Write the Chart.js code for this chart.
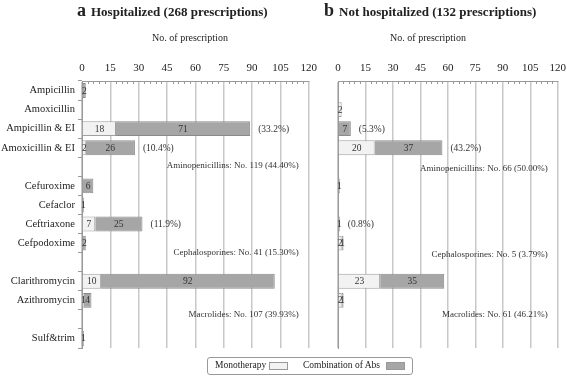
<!DOCTYPE html>
<html>
<head>
<meta charset="utf-8">
<script src="https://cdn.jsdelivr.net/npm/chart.js@4.4.1/dist/chart.umd.min.js"></script>
<style>
  body { margin: 0; background: #fff; font-family: "Liberation Serif", "DejaVu Serif", serif; color: #222; }
  #wrap { position: relative; width: 567px; height: 376px; overflow: hidden; }
  canvas { position: absolute; top: 0; }
  .title { position: absolute; top: 0; font-weight: bold; font-size: 13px; white-space: nowrap; }
  .title b { font-size: 18px; margin-right: 5px; }
  .axt { position: absolute; top: 32px; font-size: 10px; white-space: nowrap; transform: translateX(-50%); }
  #legend { position: absolute; left: 207px; top: 357px; width: 206px; height: 18px; border: 1px solid #999;
            border-radius: 3px; font-size: 9.5px; box-sizing: border-box; }
  #legend span.t { position: absolute; top: 2px; white-space: nowrap; }
  #legend span.s { position: absolute; top: 4px; width: 19px; height: 8px; border: 1px solid #999; box-sizing: border-box; }
</style>
</head>
<body>
<div id="wrap">
  <canvas id="chartA" width="323" height="376" style="left:0"></canvas>
  <canvas id="chartB" width="252" height="376" style="left:320px"></canvas>
  <div class="title" style="left:77px"><b>a</b>Hospitalized (268 prescriptions)</div>
  <div class="title" style="left:324px"><b>b</b>Not hospitalized (132 prescriptions)</div>
  <div class="axt" style="left:190px">No. of prescription</div>
  <div class="axt" style="left:428px">No. of prescription</div>
  <div id="legend">
    <span class="t" style="left:7px">Monotherapy</span>
    <span class="s" style="left:61px;background:#f2f2f2"></span>
    <span class="t" style="left:95px">Combination of Abs</span>
    <span class="s" style="left:178px;background:#a6a6a6"></span>
  </div>
</div>
<script>
const categories = ["Ampicillin", "Amoxicillin", "Ampicillin & EI", "Amoxicillin & EI", "",
  "Cefuroxime", "Cefaclor", "Ceftriaxone", "Cefpodoxime", "",
  "Clarithromycin", "Azithromycin", "", "Sulf&trim"];
const xTicks = [0, 15, 30, 45, 60, 75, 90, 105, 120];

// hospitalized
const hospMono  = [null, null, 18, 2, null, null, null, 7, null, null, 10, 1, null, null];
const hospCombo = [2, null, 71, 26, null, 6, 1, 25, 2, null, 92, 4, null, 1];
const hospPct   = ["", "", "(33.2%)", "(10.4%)", "", "", "", "(11.9%)", "", "", "", "", "", ""];
const hospGroups = ["Aminopenicillins: No. 119 (44.40%)", "Cephalosporines: No. 41 (15.30%)", "Macrolides: No. 107 (39.93%)"];
const hospGroupSlots = [3.92, 8.5, 11.76];

// not hospitalized
const outMono  = [null, 2, null, 20, null, null, null, null, 2, null, 23, 2, null, null];
const outCombo = [null, null, 7, 37, null, 1, null, 1, 1, null, 35, 1, null, null];
const outPct   = ["", "", "(5.3%)", "(43.2%)", "", "", "", "(0.8%)", "", "", "", "", "", ""];
const outGroups = ["Aminopenicillins: No. 66 (50.00%)", "Cephalosporines: No. 5 (3.79%)", "Macrolides: No. 61 (46.21%)"];
const outGroupSlots = [4.08, 8.6, 11.76];

const serif = "'Liberation Serif', 'DejaVu Serif', serif";

const barText = {
  id: "barText",
  afterDatasetsDraw(chart, args, opts) {
    const ctx = chart.ctx;
    const x = chart.scales.x, y = chart.scales.y;
    const area = chart.chartArea;
    ctx.save();
    // minor ticks on the top axis
    ctx.strokeStyle = "#999";
    ctx.lineWidth = 1;
    for (let v = 0; v <= 120; v += 3) {
      if (v % 15 === 0) continue;
      const px = Math.round(x.getPixelForValue(v)) + 0.5;
      ctx.beginPath();
      ctx.moveTo(px, area.top);
      ctx.lineTo(px, area.top + 3);
      ctx.stroke();
    }
    // values inside the bars
    ctx.fillStyle = "#333";
    ctx.font = "9.5px " + serif;
    ctx.textAlign = "center";
    ctx.textBaseline = "middle";
    chart.data.datasets.forEach((ds, di) => {
      chart.getDatasetMeta(di).data.forEach((bar, i) => {
        if (ds.data[i] == null) return;
        const c = bar.getCenterPoint();
        ctx.fillText(ds.data[i], c.x, c.y + 0.5);
      });
    });
    // percentage after the bar
    ctx.font = "9.5px " + serif;
    ctx.textAlign = "left";
    opts.pct.forEach((t, i) => {
      if (!t) return;
      const total = (opts.mono[i] || 0) + (opts.combo[i] || 0);
      ctx.fillText(t, x.getPixelForValue(total) + 8, y.getPixelForValue(i) + 0.5);
    });
    // group totals
    ctx.font = "9px " + serif;
    ctx.textAlign = "right";
    opts.groups.forEach((t, k) => {
      ctx.fillText(t, area.right - 10, y.getPixelForValue(opts.slots[k]));
    });
    ctx.restore();
  }
};

function makeChart(id, mono, combo, pct, groups, slots, yWidth, showLabels) {
  return new Chart(document.getElementById(id), {
    type: "bar",
    data: {
      labels: categories,
      datasets: [
        { label: "Monotherapy", data: mono, backgroundColor: "#f2f2f2", borderColor: "#a0a0a0", borderWidth: 1 },
        { label: "Combination of Abs", data: combo, backgroundColor: "#a6a6a6", borderColor: "#8a8a8a", borderWidth: 1 }
      ]
    },
    options: {
      indexAxis: "y",
      responsive: false,
      animation: false,
      devicePixelRatio: 1,
      barPercentage: 0.78,
      categoryPercentage: 1,
      layout: { padding: { top: 0, right: 0, bottom: 28, left: 0 } },
      plugins: {
        legend: { display: false },
        tooltip: { enabled: false },
        barText: { mono: mono, combo: combo, pct: pct, groups: groups, slots: slots }
      },
      scales: {
        x: {
          position: "top",
          stacked: true,
          min: 0,
          max: 120,
          afterBuildTicks: s => { s.ticks = xTicks.map(v => ({ value: v })); },
          afterFit: s => { s.height = 81; },
          ticks: { font: { family: serif, size: 11 }, color: "#222", padding: 6 },
          grid: { color: "#c8c8c8", lineWidth: 1.5, drawTicks: false },
          border: { display: true, color: "#999", width: 1 }
        },
        y: {
          stacked: true,
          afterFit: s => { s.width = yWidth; },
          ticks: { display: showLabels, autoSkip: false, font: { family: serif, size: 10.5 }, color: "#222", padding: 3 },
          grid: { offset: true, drawOnChartArea: false, drawTicks: showLabels, tickLength: 4, color: "#999" },
          border: { display: true, color: "#999", width: 1 }
        }
      }
    },
    plugins: [barText]
  });
}

makeChart("chartA", hospMono, hospCombo, hospPct, hospGroups, hospGroupSlots, 82, true);
makeChart("chartB", outMono, outCombo, outPct, outGroups, outGroupSlots, 18, false);
</script>
</body>
</html>
